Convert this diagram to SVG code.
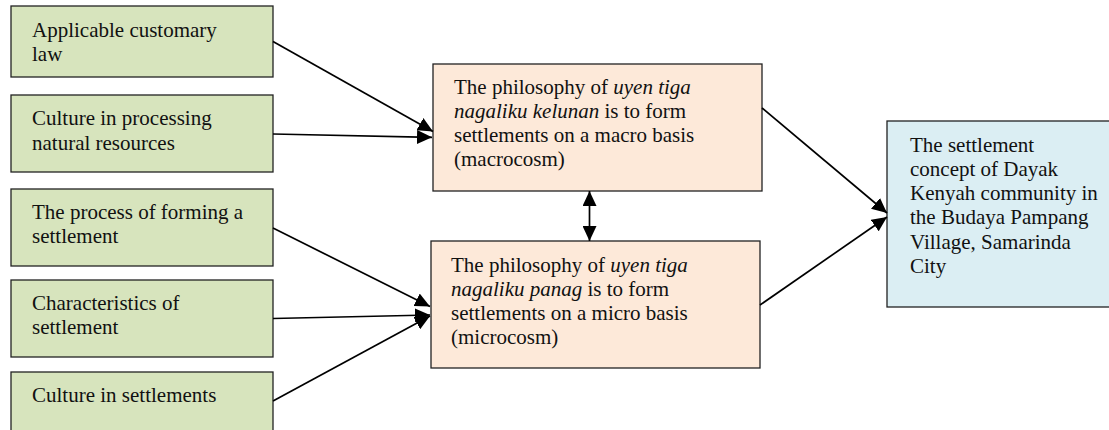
<svg xmlns="http://www.w3.org/2000/svg" width="1109" height="430" viewBox="0 0 1109 430">
<style>
  text { font-family: "Liberation Serif", "Times New Roman", serif; font-size: 21px; fill: #111; }
  .green { fill: #d7e4bd; stroke: #222; stroke-width: 1.3; }
  .peach { fill: #fde9d9; stroke: #222; stroke-width: 1.3; }
  .blue { fill: #dbeef3; stroke: #222; stroke-width: 1.3; }
  .conn { stroke: #000; stroke-width: 1.7; fill: none; }
  .it { font-style: italic; }
</style>
<defs>
  <marker id="ah" markerUnits="userSpaceOnUse" markerWidth="16" markerHeight="14" refX="15" refY="7" orient="auto">
    <path d="M0,0 L15,7 L0,14 z" fill="#000"/>
  </marker>
  <marker id="as" markerUnits="userSpaceOnUse" markerWidth="16" markerHeight="14" refX="0" refY="7" orient="auto">
    <path d="M15,0 L0,7 L15,14 z" fill="#000"/>
  </marker>
</defs>
<rect width="1109" height="430" fill="#fff"/>

<g id="n1">
  <rect class="green" x="11" y="6" width="262" height="71"/>
  <text x="32" y="36.5">Applicable customary</text>
  <text x="32" y="60.5">law</text>
</g>
<g id="n2">
  <rect class="green" x="11" y="95" width="262" height="77"/>
  <text x="32" y="125">Culture in processing</text>
  <text x="32" y="150">natural resources</text>
</g>
<g id="n3">
  <rect class="green" x="11" y="189" width="262" height="77"/>
  <text x="32" y="219">The process of forming a</text>
  <text x="32" y="243">settlement</text>
</g>
<g id="n4">
  <rect class="green" x="11" y="280" width="262" height="77"/>
  <text x="32" y="310">Characteristics of</text>
  <text x="32" y="334">settlement</text>
</g>
<g id="n5">
  <rect class="green" x="11" y="372" width="262" height="80"/>
  <text x="32" y="402">Culture in settlements</text>
</g>

<g id="macro">
  <rect class="peach" x="433" y="64" width="329" height="127"/>
  <text x="454" y="94">The philosophy of <tspan class="it">uyen tiga</tspan></text>
  <text x="454" y="118"><tspan class="it">nagaliku kelunan</tspan> is to form</text>
  <text x="454" y="142">settlements on a macro basis</text>
  <text x="454" y="166">(macrocosm)</text>
</g>
<g id="micro">
  <rect class="peach" x="431" y="241" width="329" height="127"/>
  <text x="451" y="272">The philosophy of <tspan class="it">uyen tiga</tspan></text>
  <text x="451" y="296"><tspan class="it">nagaliku panag</tspan> is to form</text>
  <text x="451" y="320">settlements on a micro basis</text>
  <text x="451" y="344">(microcosm)</text>
</g>
<g id="result">
  <rect class="blue" x="887" y="121" width="240" height="186"/>
  <text x="910" y="151.5">The settlement</text>
  <text x="910" y="175.5">concept of Dayak</text>
  <text x="910" y="200">Kenyah community in</text>
  <text x="910" y="224">the Budaya Pampang</text>
  <text x="910" y="248.5">Village, Samarinda</text>
  <text x="910" y="273">City</text>
</g>

<g id="connectors">
  <line class="conn" x1="273" y1="41.5" x2="433" y2="131.5" marker-end="url(#ah)"/>
  <line class="conn" x1="273" y1="134" x2="432" y2="137.3" marker-end="url(#ah)"/>
  <line class="conn" x1="273" y1="228" x2="430" y2="306.5" marker-end="url(#ah)"/>
  <line class="conn" x1="273" y1="318.5" x2="430" y2="315" marker-end="url(#ah)"/>
  <line class="conn" x1="273" y1="401" x2="430" y2="316" marker-end="url(#ah)"/>
  <line class="conn" x1="589.5" y1="191" x2="589.5" y2="241" marker-start="url(#as)" marker-end="url(#ah)"/>
  <line class="conn" x1="762" y1="108" x2="887" y2="213" marker-end="url(#ah)"/>
  <line class="conn" x1="760" y1="305" x2="887" y2="217" marker-end="url(#ah)"/>
</g>
</svg>
